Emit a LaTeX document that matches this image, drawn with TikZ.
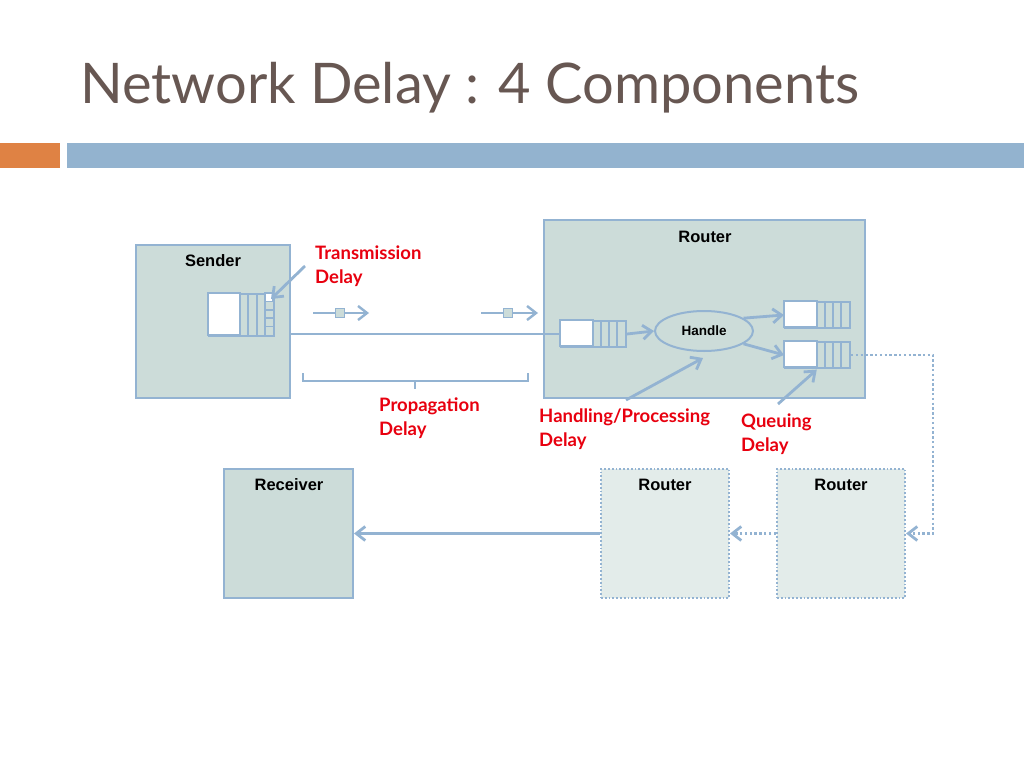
\documentclass[tikz,border=0pt]{standalone}
\usepackage{fontspec}
\setmainfont{Liberation Sans}
\newfontfamily\gillfont{Lato}
\usepackage{tikz}
\usetikzlibrary{arrows.meta, positioning, shapes.geometric}
\definecolor{linkblue}{HTML}{93B3D2}
\definecolor{boxfill}{HTML}{CCDCD9}
\definecolor{farfill}{HTML}{E3ECEA}
\definecolor{delayred}{HTML}{E8000F}
\definecolor{titlegray}{HTML}{675752}
\definecolor{barorange}{HTML}{DF8244}
\definecolor{barblue}{HTML}{93B3CF}
\tikzstyle{host} = [rectangle, draw=linkblue, line width=2pt, fill=boxfill, inner sep=0pt]
\tikzstyle{farhost} = [host, fill=farfill, line width=2pt, dash pattern=on 1.8pt off 2pt]
\tikzstyle{hostlabel} = [font=\fontsize{16.5}{18}\selectfont\bfseries, inner sep=0pt]
\tikzstyle{delaylabel} = [font=\gillfont\fontsize{18.5}{24}\selectfont\bfseries, text=delayred, align=left, anchor=north west, inner sep=0pt]
\tikzstyle{queuebox} = [rectangle, draw=linkblue, line width=2pt, fill=boxfill, minimum width=65pt, minimum height=26pt, inner sep=0pt, anchor=north west]
\tikzstyle{arrow} = [draw=linkblue, line width=2.8pt, -{Straight Barb[length=9pt,width=14pt]}]
\tikzstyle{dotarrow} = [arrow, line width=2.8pt, dash pattern=on 2.4pt off 2.4pt]
\tikzstyle{pktsq} = [rectangle, draw=linkblue, line width=1.6pt, fill=boxfill, minimum size=9pt, inner sep=0pt]
% queue with white slot and four cells: name, left x, top y
\newcommand{\pktqueue}[3]{%
  \node[queuebox] (#1) at (#2,#3) {};
  \filldraw[fill=white, draw=linkblue, line width=2pt] (#2,#3) rectangle ++(33,26);
  \foreach \k in {41,49,57}
    \draw[linkblue, line width=2pt] (#2+\k,#3) -- ++(0,26);
}

\begin{document}
\begin{tikzpicture}[x=1pt, y=-1pt]
            \useasboundingbox[fill=white] (0,0) rectangle (1024,768);

            % Title and bars
            \node[font=\gillfont\fontsize{56}{64}\selectfont, text=titlegray, anchor=base west, inner sep=0pt] (title) at (80,103) {Network Delay : 4 Components};
            \fill[barorange] (0,143) rectangle (60,168);
            \fill[barblue] (67,143) rectangle (1024,168);

            % Hosts
            \node[host, minimum width=154pt, minimum height=153pt] (sender) at (213,321.5) {};
            \node[host, minimum width=321pt, minimum height=178pt] (router) at (704.5,309) {};
            \node[host, minimum width=129pt, minimum height=129pt] (receiver) at (288.5,533.5) {};
            \node[farhost, minimum width=128pt, minimum height=129pt] (router2) at (665,533.5) {};
            \node[farhost, minimum width=128pt, minimum height=129pt] (router3) at (841,533.5) {};
            \node[hostlabel] at (213,261) {Sender};
            \node[hostlabel] at (705,237) {Router};
            \node[hostlabel] at (289,485) {Receiver};
            \node[hostlabel] at (665,485) {Router};
            \node[hostlabel] at (841,485) {Router};

            % Sender queue
            \node[queuebox, minimum height=42pt] (qsend) at (208,293) {};
            \filldraw[fill=white, draw=linkblue, line width=2pt] (208,293) rectangle (240,335);
            \foreach \k in {248.3,256.7,265}
              \draw[linkblue, line width=2pt] (\k,293) -- (\k,335);
            \filldraw[fill=white, draw=linkblue, line width=1.6pt] (265,293) rectangle (273,301.4);
            \foreach \k in {309.8,318.2,326.6}
              \draw[linkblue, line width=1.6pt] (265,\k) -- (273,\k);

            % Router internals
            \pktqueue{qin}{560}{320}
            \pktqueue{qout1}{784}{301}
            \pktqueue{qout2}{784}{341}
            \node[ellipse, draw=linkblue, line width=2pt, fill=boxfill, minimum width=98pt, minimum height=40pt, font=\fontsize{13.5}{15}\selectfont\bfseries] (handle) at (704,331) {Handle};

            % Links
            \draw[linkblue, line width=2.8pt] (sender.east |- qin.west) -- (qin.west);
            \draw[arrow] (qin.east) -- (handle.west);
            \draw[arrow] (handle.18) -- (qout1.west);
            \draw[arrow] (handle.-18) -- (qout2.west);
            \draw[dotarrow] (qout2.east) -- ++(82,0) |- (router3.east);
            \draw[dotarrow] (router3.west) -- (router2.east);
            \draw[arrow] (router2.west) -- (receiver.east);

            % Packets on the wire
            \coordinate (pkt1s) at (313,313);
            \coordinate (pkt1e) at (369,313);
            \coordinate (pkt2s) at (481,313);
            \coordinate (pkt2e) at (538,313);
            \draw[arrow, line width=2.4pt] (pkt1s) -- (pkt1e);
            \draw[arrow, line width=2.4pt] (pkt2s) -- (pkt2e);
            \node[pktsq] (pkt1) at (340,313) {};
            \node[pktsq] (pkt2) at (508,313) {};

            % Propagation bracket
            \draw[linkblue, line width=2.6pt] (303,373) -- (303,381) -- (528,381) -- (528,373);
            \draw[linkblue, line width=2.6pt] (415,381) -- (415,389);

            % Delay labels
            \node[delaylabel] (tx) at (315,246) {Transmission\\Delay};
            \node[delaylabel] (prop) at (379,398) {Propagation\\Delay};
            \node[delaylabel] (proc) at (539,409) {Handling/Processing\\Delay};
            \node[delaylabel] (queue) at (741,414) {Queuing\\Delay};
            \coordinate (txs) at (305,266);
            \coordinate (txe) at (271,299);
            \coordinate (procs) at (626,400);
            \coordinate (proce) at (703,358);
            \coordinate (queues) at (778,404);
            \draw[arrow] (txs) -- (txe);
            \draw[arrow] (procs) -- (proce);
            \draw[arrow, shorten >=1pt] (queues) -- (qout2.south);
        \end{tikzpicture}
\end{document}
